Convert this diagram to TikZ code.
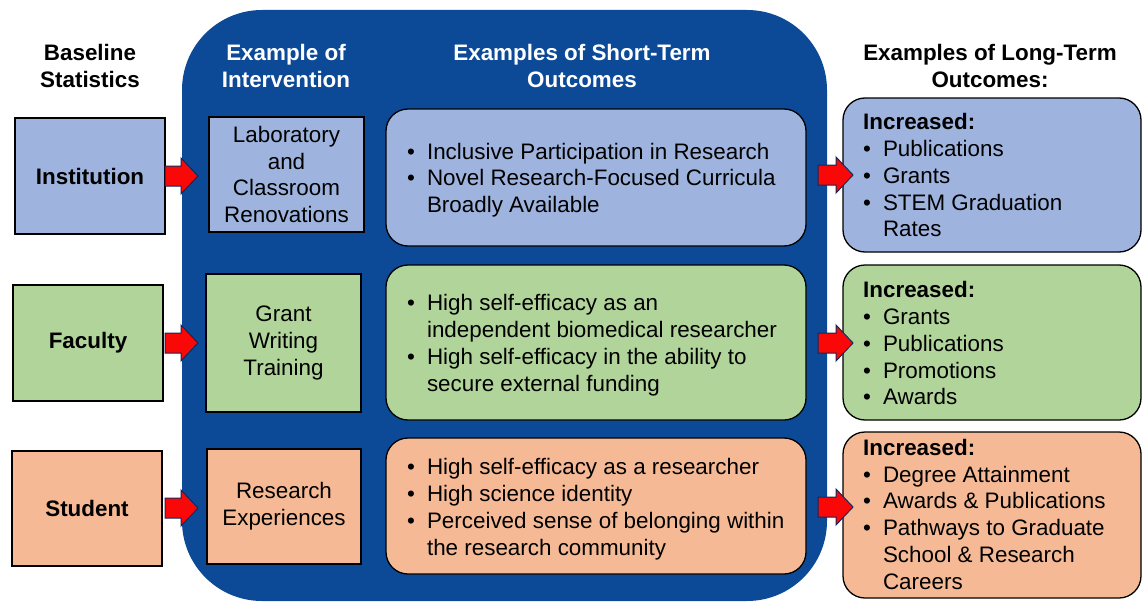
\documentclass[tikz,border=0pt]{standalone}
\usepackage{fontspec}
\setmainfont{Liberation Sans}
\usetikzlibrary{calc}
\definecolor{bigblue}{RGB}{12,74,152}
\definecolor{lblue}{RGB}{158,180,222}
\definecolor{lgreen}{RGB}{177,212,154}
\definecolor{lorange}{RGB}{245,186,149}
\definecolor{arrred}{RGB}{250,8,8}
\definecolor{arredge}{RGB}{20,40,90}
\newcommand\blist[1]{\begin{tabular}{@{}l@{\hspace{12pt}}l@{}}#1\end{tabular}}
\newcommand\bl{\textbullet}
\newcommand\incr{\multicolumn{2}{@{}l@{}}{\textbf{Increased:}}}
\begin{document}
\begin{tikzpicture}[x=1pt,y=-1pt,
  every node/.style={font=\fontsize{22.4}{26.8}\selectfont, inner sep=0pt},
  sqbox/.style={draw=black, line width=1.3pt, align=center},
  rbox/.style={draw=black, line width=1.3pt, rounded corners=22pt},
  hdr/.style={font=\fontsize{22.4}{26.8}\selectfont\bfseries, align=center},
  blockarr/.style={fill=arrred, draw=arredge, line width=1pt, line join=miter}]
\useasboundingbox (0,0) rectangle (1143,602);
% big blue panel
\fill[bigblue, rounded corners=80pt] (182,10) rectangle (827,601);
% headers
\node[hdr] (h1) at (90,66) {Baseline\\Statistics};
\node[hdr, text=white] (h2) at (286,66) {Example of\\Intervention};
\node[hdr, text=white] (h3) at (582,66) {Examples of Short-Term\\Outcomes};
\node[hdr] (h4) at (990,66) {Examples of Long-Term\\Outcomes:};
% baseline boxes
\node[sqbox, fill=lblue, minimum width=150pt, minimum height=116pt, font=\fontsize{22.4}{26.8}\selectfont\bfseries] (inst) at (90,176) {Institution};
\node[sqbox, fill=lgreen, minimum width=150pt, minimum height=116pt, font=\fontsize{22.4}{26.8}\selectfont\bfseries] (fac) at (88,343) {Faculty};
\node[sqbox, fill=lorange, minimum width=150pt, minimum height=115pt, font=\fontsize{22.4}{26.8}\selectfont\bfseries] (stu) at (87,508.5) {Student};
% intervention boxes
\node[sqbox, fill=lblue, minimum width=155pt, minimum height=115pt] (lab) at (286.5,174.5) {Laboratory\\and\\Classroom\\Renovations};
\node[sqbox, fill=lgreen, minimum width=155pt, minimum height=138pt] (grant) at (283.5,343) {Grant\\Writing\\Training};
\node[sqbox, fill=lorange, minimum width=154pt, minimum height=115pt] (rexp) at (284,506.5) {Research\\Experiences};
% short-term boxes
\draw[rbox, fill=lblue] (386,109) rectangle (806,246);
\node[anchor=west] (st1) at (407,180.5) {\blist{\bl & Inclusive Participation in Research\\ \bl & Novel Research-Focused Curricula\\ & Broadly Available}};
\draw[rbox, fill=lgreen] (386,265) rectangle (806,420);
\node[anchor=west] (st2) at (407,345.5) {\blist{\bl & High self-efficacy as an\\ & independent biomedical researcher\\ \bl & High self-efficacy in the ability to\\ & secure external funding}};
\draw[rbox, fill=lorange] (386,438) rectangle (806,574);
\node[anchor=west] (st3) at (407,509.5) {\blist{\bl & High self-efficacy as a researcher\\ \bl & High science identity\\ \bl & Perceived sense of belonging within\\ & the research community}};
% long-term boxes
\draw[rbox, fill=lblue] (843,98) rectangle (1141,252);
\node[anchor=west] (lt1) at (863,178) {\blist{\incr\\ \bl & Publications\\ \bl & Grants\\ \bl & STEM Graduation\\ & Rates}};
\draw[rbox, fill=lgreen] (843,265) rectangle (1141,420);
\node[anchor=west] (lt2) at (863,346) {\blist{\incr\\ \bl & Grants\\ \bl & Publications\\ \bl & Promotions\\ \bl & Awards}};
\draw[rbox, fill=lorange] (843,432) rectangle (1141,598);
\node[anchor=west] (lt3) at (863,517) {\blist{\incr\\ \bl & Degree Attainment\\ \bl & Awards \& Publications\\ \bl & Pathways to Graduate\\ & School \& Research\\ & Careers}};
% block arrows: left
\foreach \n/\yy in {inst/176, fac/343, stu/508}{
  \draw[blockarr] (165,\yy-10) -- (181,\yy-10) -- (181,\yy-18) -- (198,\yy) -- (181,\yy+18) -- (181,\yy+10) -- (165,\yy+10) -- cycle;
}
% block arrows: right
\foreach \yy in {175, 343, 507}{
  \draw[blockarr] (818,\yy-10) -- (836,\yy-10) -- (836,\yy-18) -- (853,\yy) -- (836,\yy+18) -- (836,\yy+10) -- (818,\yy+10) -- cycle;
}
\end{tikzpicture}
\end{document}
